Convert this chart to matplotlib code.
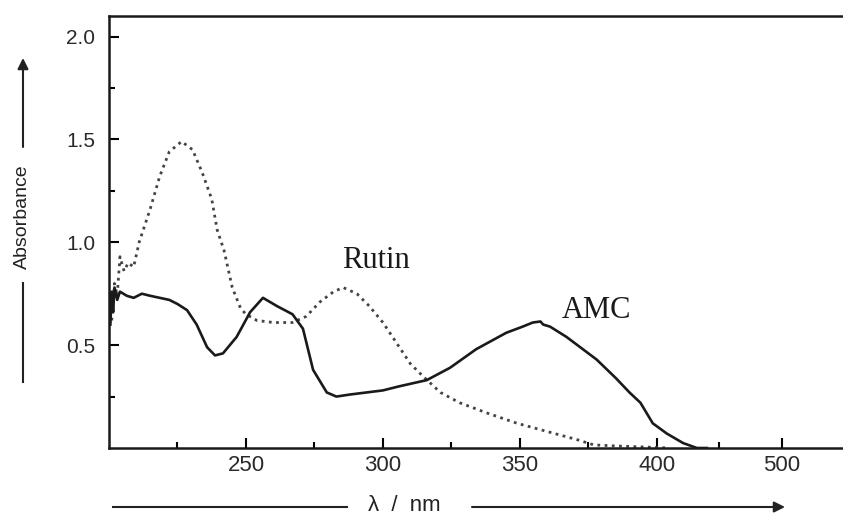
import numpy as np
import matplotlib
matplotlib.use("Agg")
import matplotlib.pyplot as plt
from matplotlib.lines import Line2D

# Rutin spectrum (dotted)
rutin_nm = [201, 202, 203, 204, 205.5, 207, 209, 211, 215, 218.5, 222, 226.5,
            230.5, 234, 237.5, 239.5, 242, 245, 248, 250, 254, 260, 267, 272,
            277, 282, 285.5, 290.5, 295, 300, 305, 310, 314.5, 321, 328, 338,
            349, 360, 371, 377, 385, 395, 410]
rutin_abs = [0.62, 0.80, 0.74, 0.93, 0.86, 0.90, 0.88, 1.00, 1.16, 1.32, 1.44, 1.49,
             1.45, 1.34, 1.21, 1.06, 0.96, 0.78, 0.68, 0.65, 0.62, 0.61, 0.61, 0.64,
             0.71, 0.76, 0.78, 0.75, 0.69, 0.61, 0.51, 0.41, 0.35, 0.27, 0.22, 0.17,
             0.12, 0.08, 0.04, 0.015, 0.01, 0.005, 0.0]

# AMC spectrum (solid)
amc_nm = [200.5, 201, 201.5, 202, 203, 204, 206.5, 209, 212, 215, 218.5, 222,
          225, 228.5, 232, 235.8, 238.7, 241.6, 246.6, 251.5, 256.2, 261.3, 267,
          270.8, 274.5, 279.5, 283, 288, 294, 300, 306, 316, 324.5, 334, 345, 351,
          354.7, 357.5, 358.5, 361, 367, 372, 378, 385, 390, 394, 398.5, 408,
          421, 432, 440]
amc_abs = [0.60, 0.76, 0.66, 0.78, 0.72, 0.76, 0.74, 0.73, 0.75, 0.74, 0.73, 0.72,
           0.70, 0.67, 0.60, 0.49, 0.45, 0.46, 0.54, 0.66, 0.73, 0.69, 0.65,
           0.58, 0.38, 0.27, 0.25, 0.26, 0.27, 0.28, 0.30, 0.33, 0.39, 0.48, 0.56, 0.59,
           0.61, 0.615, 0.60, 0.59, 0.54, 0.49, 0.43, 0.34, 0.27, 0.22, 0.12, 0.07,
           0.024, 0.0, 0.0]

x_major = [250, 300, 350, 400, 500]
x_minor = [225, 275, 325, 375, 450]
y_major = [0.5, 1.0, 1.5, 2.0]
y_minor = [0.25, 0.75, 1.25, 1.75]

# axis is squeezed past 400 nm in the original
BREAK = 400
RATIO = 0.456


def fwd(x):
    x = np.asarray(x, float)
    return np.where(x <= BREAK, x, BREAK + (x - BREAK) * RATIO)


def inv(t):
    t = np.asarray(t, float)
    return np.where(t <= BREAK, t, BREAK + (t - BREAK) / RATIO)


W, H = 843, 515
fig = plt.figure(figsize=(W / 100, H / 100), dpi=100)
ax = fig.add_axes([109 / W, 1 - 448 / H, 1 - 109 / W, (448 - 16) / H])

ax.plot(rutin_nm, rutin_abs, color="#444444", lw=2.0, ls=(0, (1, 1.6)))
ax.plot(amc_nm, amc_abs, color="#1a1a1a", lw=1.9)

ax.set_xscale("function", functions=(fwd, inv))
ax.set_xlim(200, 549)
ax.set_ylim(0, 2.1)
ax.set_xticks(x_major)
ax.set_xticks(x_minor, minor=True)
ax.set_xticklabels([str(v) for v in x_major])
ax.set_yticks(y_major)
ax.set_yticks(y_minor, minor=True)
ax.set_yticklabels([f"{v:.1f}" for v in y_major])

for lab in ax.get_xticklabels() + ax.get_yticklabels():
    lab.set_fontfamily("Liberation Sans")
ax.tick_params(axis="x", which="major", direction="in", length=7, width=1.5,
               labelsize=16, labelcolor="#2a2a2a", pad=5)
ax.tick_params(axis="y", which="major", direction="in", length=7, width=1.5,
               labelsize=15, labelcolor="#2a2a2a", pad=10)
ax.tick_params(which="minor", direction="in", length=4, width=1.5)

for s in ["left", "bottom", "top"]:
    ax.spines[s].set_linewidth(1.8)
    ax.spines[s].set_color("#1a1a1a")
ax.spines["right"].set_visible(False)

ax.text(297.5, 0.91, "Rutin", fontsize=22, family="Liberation Serif",
        ha="center", va="center", color="#1a1a1a")
ax.text(378, 0.67, "AMC", fontsize=22, family="Liberation Serif",
        ha="center", va="center", color="#1a1a1a")

# y label with arrow
fig.text(22 / W, 1 - 217 / H, "Absorbance", rotation=90, ha="center", va="center",
         fontsize=14, family="Liberation Sans", color="#222222")
fig.add_artist(Line2D([23 / W, 23 / W], [1 - 283 / H, 1 - 382 / H],
                      transform=fig.transFigure, color="#222222", lw=1.5))
ax.annotate("", xy=(23 / W, 1 - 58 / H), xytext=(23 / W, 1 - 147 / H),
            xycoords="figure fraction", textcoords="figure fraction",
            arrowprops=dict(arrowstyle="-|>", color="#222222", lw=1.5,
                            mutation_scale=16, shrinkA=0, shrinkB=0))

# x label with arrow
fig.text(404 / W, 1 - 511 / H, "λ  /  nm", ha="center", va="baseline",
         fontsize=16, family="Liberation Sans", color="#222222")
fig.add_artist(Line2D([113 / W, 347 / W], [1 - 507 / H, 1 - 507 / H],
                      transform=fig.transFigure, color="#222222", lw=1.5))
ax.annotate("", xy=(785 / W, 1 - 507 / H), xytext=(472 / W, 1 - 507 / H),
            xycoords="figure fraction", textcoords="figure fraction",
            arrowprops=dict(arrowstyle="-|>", color="#222222", lw=1.5,
                            mutation_scale=16, shrinkA=0, shrinkB=0))

fig.savefig("out.png", dpi=100)
